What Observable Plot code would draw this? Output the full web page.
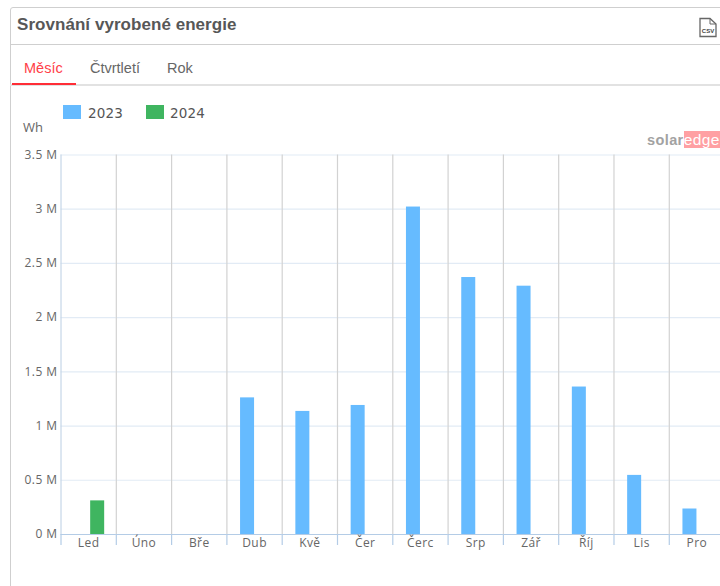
<!DOCTYPE html>
<html><head><meta charset="utf-8">
<script src="https://cdn.jsdelivr.net/npm/d3@7"></script>
<script src="https://cdn.jsdelivr.net/npm/@observablehq/plot@0.6"></script>
<style>
html,body{margin:0;padding:0;background:#fff;overflow:hidden}
#page{position:relative;width:720px;height:586px;overflow:hidden;font-family:"Liberation Sans",Arial,sans-serif}
#card{position:absolute;left:10px;top:7px;width:760px;height:640px;border:1px solid #cfcfcf;border-radius:3px;box-sizing:border-box}
#head{position:absolute;left:10px;top:44px;width:710px;height:1px;background:#cfcfcf}
#title{position:absolute;left:17px;top:15px;font-size:17px;font-weight:bold;color:#575757;line-height:20px;letter-spacing:.05px}
.tab{position:absolute;top:60px;font-size:14.5px;line-height:17px;color:#666}
#tabline{position:absolute;left:10px;top:84px;width:710px;height:2px;background:#e2e2e2}
#tabsel{position:absolute;left:12px;top:83px;width:64px;height:2px;background:#ff2d36}
.sw{position:absolute;top:105px;width:18px;height:14px}
.lg{position:absolute;top:105px;font:13.5px/16px "DejaVu Sans",sans-serif;color:#555;letter-spacing:.2px}
#wh{position:absolute;left:23px;top:120px;font:13px/15px "Open Sans",sans-serif;color:#666}
#logo{position:absolute;left:647px;top:132px;height:16px;font:bold 14.5px/16px "Liberation Sans",sans-serif;white-space:nowrap;letter-spacing:.4px}
#logo .a{color:#a2a2a2}
#logo .b{color:#fff;background:#ffa0a3;padding:0;font-weight:normal;font-size:15.5px}
#csv{position:absolute;left:698px;top:17px}
#chart{position:absolute;left:0;top:140px}
#chart svg{display:block;max-width:none}
#chart svg text{letter-spacing:.45px}
</style></head>
<body><div id="page">
<div id="card"></div><div id="head"></div>
<div id="title">Srovnání vyrobené energie</div>
<svg id="csv" width="20" height="21" viewBox="0 0 20 21"><path d="M2 1.5H12L18 7V19.5H2Z" fill="#fff" stroke="#666" stroke-width="1.3"/><path d="M12 1.5V7H18" fill="none" stroke="#666" stroke-width="1"/><text x="10" y="16" font-size="6" font-weight="bold" text-anchor="middle" fill="#444" font-family="Liberation Sans">CSV</text></svg>
<div class="tab" style="left:24px;color:#ff4048">Měsíc</div>
<div class="tab" style="left:90px">Čtvrtletí</div>
<div class="tab" style="left:167px">Rok</div>
<div id="tabline"></div><div id="tabsel"></div>
<div class="sw" style="left:63px;background:#66bbff"></div><div class="lg" style="left:88px">2023</div>
<div class="sw" style="left:146px;background:#3fb560"></div><div class="lg" style="left:170px">2024</div>
<div id="wh">Wh</div>
<div id="logo"><span class="a">solar</span><span class="b">edge</span></div>
<div id="chart"></div>
</div>
<script>
const months = ["Led","Úno","Bře","Dub","Kvě","Čer","Čerc","Srp","Zář","Říj","Lis","Pro"];
const years = ["2023","2024"];
const values2023 = [null,null,null,1260000,1135000,1190000,3020000,2370000,2290000,1360000,545000,235000];
const values2024 = [310000,null,null,null,null,null,null,null,null,null,null,null];
const yTicks = [0,500000,1000000,1500000,2000000,2500000,3000000,3500000];
const colors = ["#66bbff","#3fb560"];

const rows = months.flatMap((m,i)=>[
  {month:m,year:"2023",value:values2023[i]},
  {month:m,year:"2024",value:values2024[i]}
]).filter(d=>d.value!=null);

const bandW = 55.3;
const font = '"Open Sans",sans-serif';
const plot = Plot.plot({
  width: 60.5 + bandW*12, height: 410,
  marginTop: 14.5, marginBottom: 16, marginLeft: 60.5, marginRight: 0,
  style:{background:"transparent",fontFamily:font,fontSize:"12px",color:"#666"},
  fx:{domain:months,padding:0,round:false,label:null,axis:null},
  x:{domain:years,paddingInner:0.125,paddingOuter:0.79,align:0.54,round:false,axis:null},
  y:{domain:[0,3500000],label:null,axis:null},
  color:{domain:years,range:colors},
  marks:[
    Plot.gridY(yTicks,{stroke:"#e2ebf5",strokeOpacity:1,strokeWidth:1.2}),
    Plot.ruleX(months,{fx:d=>d,x:null,dx:-bandW/2,y1:0,y2:3500000,stroke:d=>d==="Led"?"#c6d6e8":"#d2d2d2",strokeWidth:1.2}),
    Plot.barY(rows,{fx:"month",x:"year",y:"value",fill:d=>colors[years.indexOf(d.year)]}),
    Plot.ruleY(months,{fx:d=>d,y:()=>0,stroke:"#b4cce6",strokeWidth:1.2}),
    Plot.ruleX(months,{fx:d=>d,x:null,dx:-bandW/2,y1:()=>0,y2:()=>0,insetBottom:-11,stroke:"#b4cce6",strokeWidth:1.2}),
    Plot.axisY({ticks:yTicks,tickSize:0,tickPadding:3.5,tickFormat:d=>(d/1e6)+" M",label:null,fill:"#666",anchor:"left"}),
    Plot.axisFx({domain:months,tickSize:0,tickPadding:4,label:null,anchor:"bottom",fill:"#666"})
  ]
});
document.getElementById("chart").appendChild(plot);
</script>
</body></html>
